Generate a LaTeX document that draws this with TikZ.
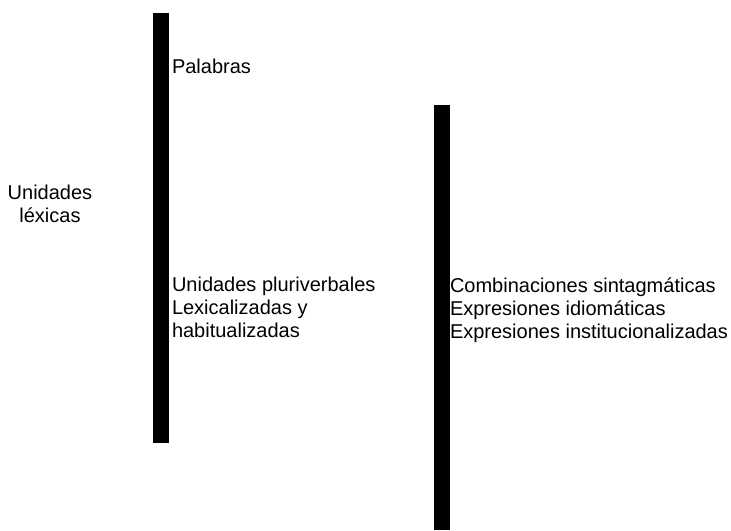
\documentclass[tikz,border=0pt]{standalone}
\usepackage{fontspec}
\setmainfont{Liberation Sans}
\usetikzlibrary{positioning}

\begin{document}
\begin{tikzpicture}[
			x=0.75pt, y=-0.75pt,
			every node/.style={inner sep=0pt, outer sep=0pt, align=left, font=\fontsize{15}{16.9}\selectfont},
			bar/.style={fill=black},
			label/.style={anchor=base west}
			]
			
			% Frame
			\useasboundingbox (0,0) rectangle (731,531);
			
			% Bars
			\fill [bar] (153,13) rectangle (169,443);
			\fill [bar] (434,105) rectangle (450,530);
			
			% Nodes (base = last line)
			\node (unidades) [anchor=base, align=center] at (50,222) {Unidades\\léxicas};
			\node (palabras) [label] at (172,74) {Palabras};
			\node (pluri) [label] at (172,337) {Unidades pluriverbales\\Lexicalizadas y\\habitualizadas};
			\node (combi) [label] at (450,338) {Combinaciones sintagmáticas\\Expresiones idiomáticas\\Expresiones institucionalizadas};
			
		\end{tikzpicture}
\end{document}
